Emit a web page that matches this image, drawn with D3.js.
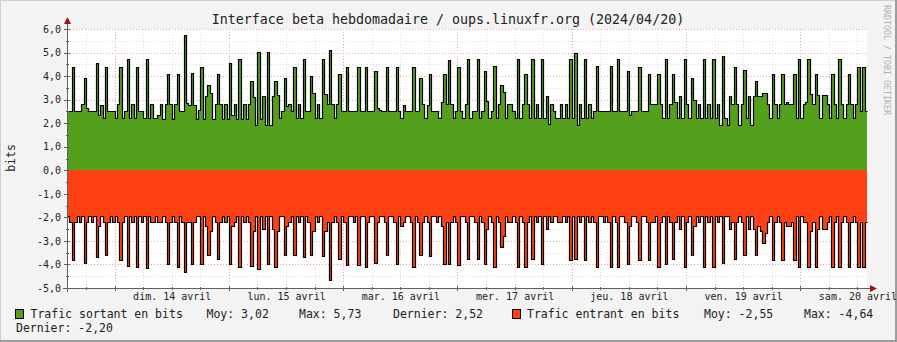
<!DOCTYPE html>
<html><head><meta charset="utf-8">
<script src="https://cdn.jsdelivr.net/npm/d3@7"></script>
<style>
html,body{margin:0;padding:0;background:#f3f3f3}
svg{display:block}
text{font-family:"DejaVu Sans Mono",monospace}
</style>
</head><body>
<svg id="chart" width="897" height="342"></svg>
<script>
// Outgoing traffic (bits), one value per 30 minutes
const outgoing = [
2.52,2.52,4.39,2.52,2.52,2.52,2.83,3.93,2.66,2.52,2.52,2.52,4.57,2.36,2.79,2.22,4.39,2.52,2.52,2.52,
2.22,2.83,4.39,2.22,2.52,4.71,2.22,2.83,2.22,4.39,2.52,2.52,2.22,4.74,2.22,2.83,2.22,2.22,2.36,2.83,
2.19,2.83,4.08,2.83,2.19,2.83,4.08,2.52,2.52,5.73,2.87,2.79,4.15,2.79,2.19,2.55,4.39,2.19,3.16,3.64,
3.30,2.19,2.83,4.08,2.83,2.19,2.83,2.19,4.57,2.36,2.83,2.19,4.74,2.19,2.83,2.19,2.83,3.79,3.11,1.91,
5.02,2.19,3.14,1.91,5.02,1.91,3.14,3.79,3.19,2.22,2.52,3.93,2.72,2.83,2.52,4.39,2.22,2.83,2.22,4.74,
2.52,2.52,3.99,3.28,2.22,2.83,2.22,4.74,3.25,2.83,5.12,2.83,2.22,2.83,4.10,2.52,2.52,4.39,2.52,2.52,
2.52,2.52,4.39,2.52,2.52,4.39,2.52,2.52,2.52,4.23,2.66,2.55,2.52,2.52,4.39,2.52,2.52,2.52,4.39,2.52,
2.22,2.79,2.52,2.52,2.52,4.39,2.52,2.52,3.93,2.83,2.22,2.79,4.08,2.52,2.52,2.52,2.22,2.90,4.08,2.83,
4.67,2.83,2.22,2.52,4.39,2.52,2.22,2.83,4.71,2.22,2.52,2.52,4.71,2.22,2.52,4.23,2.96,2.22,2.52,4.42,
2.22,2.83,3.61,3.33,2.22,2.83,2.83,2.52,2.22,4.74,2.22,2.83,4.08,2.83,2.22,4.74,2.22,2.83,2.22,4.74,
2.22,3.14,1.95,2.83,2.52,2.22,2.22,2.83,2.22,2.83,2.22,4.74,2.22,5.00,1.93,2.83,2.22,4.71,2.22,2.83,
2.22,2.52,4.42,2.52,2.52,2.52,2.52,2.52,4.42,2.52,2.52,4.74,2.52,2.52,2.52,4.23,2.36,2.52,2.52,2.52,
4.39,2.52,2.52,2.52,4.10,2.83,2.83,2.83,4.10,2.83,2.22,4.74,2.22,2.83,4.08,2.90,2.22,3.14,2.22,4.74,
2.83,2.22,3.93,2.97,2.22,2.83,2.22,4.74,2.22,2.83,2.22,4.74,2.22,2.83,1.91,4.85,2.22,1.91,3.14,2.83,
4.39,2.83,1.93,2.80,4.25,2.22,3.14,1.91,3.14,3.79,3.14,3.14,3.30,3.30,2.83,2.22,4.08,2.83,2.22,2.83,
4.08,2.83,2.90,2.83,2.80,4.08,2.22,4.74,2.22,2.83,2.90,4.74,3.25,2.83,4.08,3.19,2.22,3.19,3.19,2.83,
2.22,4.08,2.83,2.22,4.74,2.83,2.22,2.83,4.08,2.83,2.22,2.83,4.39,2.52,4.39,2.52
];
// Incoming traffic (bits, drawn below zero), one value per 30 minutes
const incoming = [
-1.95,-2.2,-3.79,-2.2,-1.95,-2.2,-1.95,-3.92,-2.2,-1.95,-2.2,-1.95,-3.68,-2.36,-1.95,-2.2,-3.61,-2.2,-1.95,-2.2,
-1.95,-2.2,-3.79,-2.2,-1.95,-4.08,-1.95,-2.2,-1.95,-4.11,-1.95,-2.2,-1.95,-4.14,-1.95,-2.2,-2.2,-1.95,-2.2,-2.2,
-1.95,-2.2,-4.0,-2.2,-1.95,-2.2,-4.11,-1.95,-2.2,-4.32,-2.2,-2.2,-4.0,-2.2,-1.95,-1.95,-4.0,-1.95,-2.36,-3.61,
-2.6,-1.95,-2.2,-3.75,-2.2,-1.95,-2.2,-1.95,-3.96,-2.36,-2.2,-1.95,-4.11,-1.95,-2.2,-1.95,-2.2,-4.06,-2.6,-1.95,
-4.18,-1.95,-2.5,-1.95,-4.0,-1.95,-2.5,-4.11,-2.6,-1.95,-1.95,-3.61,-2.36,-2.2,-1.95,-3.61,-1.95,-2.2,-1.95,-3.68,
-1.95,-2.2,-3.61,-2.6,-1.95,-2.2,-1.95,-3.65,-2.6,-2.2,-4.64,-2.2,-1.95,-2.2,-3.75,-1.95,-2.2,-4.03,-1.95,-1.95,
-2.2,-1.95,-4.03,-1.95,-1.95,-4.11,-2.2,-1.95,-1.95,-3.92,-2.2,-1.95,-1.95,-2.2,-3.61,-1.95,-1.95,-2.2,-4.0,-1.95,
-2.36,-2.2,-1.95,-1.95,-2.2,-4.11,-1.95,-2.2,-3.58,-2.2,-1.95,-2.2,-3.64,-1.95,-1.95,-2.2,-1.95,-2.36,-4.0,-2.2,
-3.97,-2.2,-1.95,-2.2,-4.03,-1.95,-1.95,-2.2,-3.75,-1.95,-1.95,-2.2,-3.75,-1.95,-2.2,-3.96,-2.5,-1.95,-2.2,-4.11,
-1.95,-2.2,-3.27,-2.8,-1.95,-2.2,-2.2,-1.95,-2.2,-4.11,-1.95,-2.2,-4.11,-2.2,-1.95,-3.75,-1.95,-2.2,-1.95,-4.0,
-1.95,-2.5,-1.95,-2.2,-1.95,-1.95,-2.2,-2.2,-1.95,-2.2,-1.95,-3.79,-1.95,-3.75,-1.95,-2.2,-1.95,-3.79,-1.95,-2.2,
-1.95,-2.2,-4.11,-1.95,-1.95,-2.2,-1.95,-2.2,-4.11,-1.95,-2.2,-4.11,-1.95,-1.95,-2.2,-3.96,-2.36,-1.95,-1.95,-2.2,
-3.79,-1.95,-1.95,-2.2,-3.79,-2.2,-2.2,-1.95,-4.11,-2.2,-1.95,-4.0,-1.95,-2.2,-3.75,-2.2,-1.95,-2.5,-1.95,-4.11,
-2.2,-1.95,-3.61,-2.36,-1.95,-2.2,-1.95,-4.11,-1.95,-2.2,-1.95,-4.11,-1.95,-2.2,-1.95,-3.92,-1.95,-1.95,-2.5,-2.2,
-3.75,-2.2,-1.95,-2.2,-3.61,-1.95,-2.5,-1.95,-2.5,-3.61,-2.36,-2.6,-3.09,-2.65,-2.2,-1.95,-3.79,-2.2,-1.95,-2.2,
-3.79,-2.2,-2.36,-2.36,-2.2,-3.79,-1.95,-4.11,-1.95,-2.2,-2.2,-4.11,-2.6,-2.2,-4.11,-2.5,-1.95,-2.5,-2.5,-2.2,
-1.95,-4.11,-2.2,-1.95,-4.11,-2.2,-1.95,-2.2,-4.11,-2.2,-1.95,-2.2,-4.11,-2.2,-4.11,-2.2
];
const yTicks = [-5, -4, -3, -2, -1, 0, 1, 2, 3, 4, 5, 6];
const dayLabels = ["dim. 14 avril", "lun. 15 avril", "mar. 16 avril", "mer. 17 avril",
                   "jeu. 18 avril", "ven. 19 avril", "sam. 20 avril"];
const legendOut = ["Trafic sortant en bits", "Moy: 3,02", "Max: 5,73", "Dernier: 2,52"];
const legendIn  = ["Trafic entrant en bits", "Moy: -2,55", "Max: -4,64", "Dernier: -2,20"];

const stepMs = 30 * 60 * 1000;
const startTime = new Date(2024, 3, 13, 14, 0);
const endTime = new Date(startTime.getTime() + 7 * 24 * 3600 * 1000);

const W = 897, H = 342;
const pL = 67, pR = 867, pT = 29, pB = 288;
const greenFill = "#54a01d", redFill = "#ff4012";

const svg = d3.select("#chart");

// frame
svg.append("rect").attr("width", W).attr("height", H).attr("fill", "#f3f3f3");
svg.append("path").attr("d", `M0.5,${H} V0.5 H${W}`).attr("fill", "none").attr("stroke", "#cfcfcf");
svg.append("path").attr("d", `M0,${H - 1} H${W - 1} V0`).attr("fill", "none").attr("stroke", "#9d9d9d").attr("stroke-width", 2);

const x = d3.scaleTime().domain([startTime, endTime]).range([pL, pR]);
const y = d3.scaleLinear().domain([-5, 6]).range([pB, pT]);

svg.append("rect").attr("x", pL).attr("y", pT).attr("width", pR - pL).attr("height", pB - pT).attr("fill", "#ffffff");

// grid
const grid = svg.append("g").attr("shape-rendering", "crispEdges");
const minorY = d3.range(-9, 12).map(k => k * 0.5).filter(v => !Number.isInteger(v));
grid.selectAll(".hmin").data(minorY).join("line")
  .attr("x1", pL).attr("x2", pR).attr("y1", d => Math.round(y(d)) + 0.5).attr("y2", d => Math.round(y(d)) + 0.5)
  .attr("stroke", "#dcdcdc").attr("stroke-dasharray", "1,2");
grid.selectAll(".hmaj").data(yTicks).join("line")
  .attr("x1", pL).attr("x2", pR).attr("y1", d => Math.round(y(d)) + 0.5).attr("y2", d => Math.round(y(d)) + 0.5)
  .attr("stroke", "#f0a0a0").attr("stroke-dasharray", "1,2");
const sixHours = d3.timeHour.every(6).range(startTime, endTime).filter(d => d.getHours() !== 0);
const midnights = d3.timeDay.range(startTime, endTime);
grid.selectAll(".vmin").data(sixHours).join("line")
  .attr("y1", pT).attr("y2", pB).attr("x1", d => Math.round(x(d)) + 0.5).attr("x2", d => Math.round(x(d)) + 0.5)
  .attr("stroke", "#dcdcdc").attr("stroke-dasharray", "1,2");
grid.selectAll(".vmaj").data(midnights).join("line")
  .attr("y1", pT).attr("y2", pB).attr("x1", d => Math.round(x(d)) + 0.5).attr("x2", d => Math.round(x(d)) + 0.5)
  .attr("stroke", "#f0a0a0").attr("stroke-dasharray", "1,2");

// series as step areas
function series(values) {
  const pts = values.map((v, i) => ({ t: new Date(startTime.getTime() + i * stepMs), v }));
  pts.push({ t: new Date(startTime.getTime() + values.length * stepMs), v: values[values.length - 1] });
  return pts;
}
const outPts = series(outgoing), inPts = series(incoming);
const area = d3.area().curve(d3.curveStepAfter).x(d => x(d.t)).y0(y(0)).y1(d => y(d.v));
const line = d3.line().curve(d3.curveStepAfter).x(d => Math.round(x(d.t)) + 0.5).y(d => Math.round(y(d.v)) + 0.5);

const plot = svg.append("g");
plot.append("path").attr("d", area(outPts)).attr("fill", greenFill).attr("shape-rendering", "crispEdges");
plot.append("path").attr("d", area(inPts)).attr("fill", redFill).attr("shape-rendering", "crispEdges");
plot.append("path").attr("d", line(outPts)).attr("fill", "none").attr("stroke", "#000").attr("stroke-width", 1.2);
plot.append("path").attr("d", line(inPts)).attr("fill", "none").attr("stroke", "#000").attr("stroke-width", 1.2);

// axes
const fr = d3.formatLocale({ decimal: ",", thousands: " ", grouping: [3], currency: ["", " €"], minus: "-" });
const fmt = fr.format(".1f");
const axes = svg.append("g").attr("shape-rendering", "crispEdges");
axes.append("line").attr("x1", pL + 0.5).attr("x2", pL + 0.5).attr("y1", pB + 4).attr("y2", pT - 6).attr("stroke", "#606060");
axes.append("line").attr("x1", pL - 4).attr("x2", pR + 4).attr("y1", pB + 0.5).attr("y2", pB + 0.5).attr("stroke", "#606060");
axes.append("path").attr("d", `M${pL - 3},${pT - 5} L${pL + 4},${pT - 5} L${pL + 0.5},${pT - 12} Z`).attr("fill", "#a01010").attr("shape-rendering", "auto");
axes.append("path").attr("d", `M${pR + 3},${pB - 3} L${pR + 3},${pB + 4} L${pR + 10},${pB + 0.5} Z`).attr("fill", "#a01010").attr("shape-rendering", "auto");

axes.selectAll(".ytk").data(yTicks).join("line")
  .attr("x1", pL - 3).attr("x2", pL + 3).attr("y1", d => Math.round(y(d)) + 0.5).attr("y2", d => Math.round(y(d)) + 0.5).attr("stroke", "#606060");
axes.selectAll(".ytm").data(minorY).join("line")
  .attr("x1", pL - 1).attr("x2", pL + 2).attr("y1", d => Math.round(y(d)) + 0.5).attr("y2", d => Math.round(y(d)) + 0.5).attr("stroke", "#606060");
axes.selectAll(".xtk").data(midnights).join("line")
  .attr("x1", d => Math.round(x(d)) + 0.5).attr("x2", d => Math.round(x(d)) + 0.5).attr("y1", pB - 2).attr("y2", pB + 3).attr("stroke", "#606060");
axes.selectAll(".xtm").data(sixHours).join("line")
  .attr("x1", d => Math.round(x(d)) + 0.5).attr("x2", d => Math.round(x(d)) + 0.5).attr("y1", pB - 1).attr("y2", pB + 2).attr("stroke", "#606060");

const yAxis = d3.axisLeft(y).tickValues(yTicks).tickFormat(fmt).tickSize(0).tickPadding(6);
const gy = svg.append("g").attr("transform", `translate(${pL},0)`).call(yAxis);
gy.select(".domain").remove();
gy.selectAll("text").attr("font-family", "DejaVu Sans Mono").attr("font-size", "10px").attr("fill", "#222");

const noons = midnights.map(d => d3.timeHour.offset(d, 12));
const xAxis = d3.axisBottom(x).tickValues(noons).tickFormat((d, i) => dayLabels[i]).tickSize(0).tickPadding(5);
const gx = svg.append("g").attr("transform", `translate(0,${pB})`).call(xAxis);
gx.select(".domain").remove();
gx.selectAll("text").attr("font-family", "DejaVu Sans Mono").attr("font-size", "10px").attr("fill", "#222");

// titles
svg.append("text").attr("x", 448).attr("y", 19).attr("text-anchor", "middle").attr("dominant-baseline", "central")
  .attr("font-size", "13.3px").attr("fill", "#222").text("Interface beta hebdomadaire / oups.linuxfr.org (2024/04/20)");
svg.append("text").attr("transform", "translate(11,158) rotate(-90)").attr("text-anchor", "middle").attr("dominant-baseline", "central")
  .attr("font-size", "11.5px").attr("fill", "#222").text("bits");
svg.append("text").attr("transform", "translate(887,5) rotate(90)").attr("text-anchor", "start").attr("dominant-baseline", "central")
  .attr("font-size", "8.3px").attr("fill", "#b0b0b0").text("RRDTOOL / TOBI OETIKER");

// legend
const lg = svg.append("g").attr("font-size", "11.5px").attr("fill", "#222");
lg.append("rect").attr("x", 15.5).attr("y", 309.5).attr("width", 8).attr("height", 9).attr("fill", greenFill).attr("stroke", "#000");
lg.append("rect").attr("x", 512.5).attr("y", 309.5).attr("width", 8).attr("height", 9).attr("fill", redFill).attr("stroke", "#000");
const legendItems = [
  { x: 30.5, y: 314, t: legendOut[0] }, { x: 206.5, y: 314, t: legendOut[1] },
  { x: 299, y: 314, t: legendOut[2] }, { x: 393, y: 314, t: legendOut[3] },
  { x: 527, y: 314, t: legendIn[0] }, { x: 704, y: 314, t: legendIn[1] },
  { x: 804, y: 314, t: legendIn[2] }, { x: 16, y: 328, t: legendIn[3] }
];
lg.selectAll("text").data(legendItems).join("text")
  .attr("x", d => d.x).attr("y", d => d.y).attr("dominant-baseline", "central").text(d => d.t);
</script>
</body></html>
